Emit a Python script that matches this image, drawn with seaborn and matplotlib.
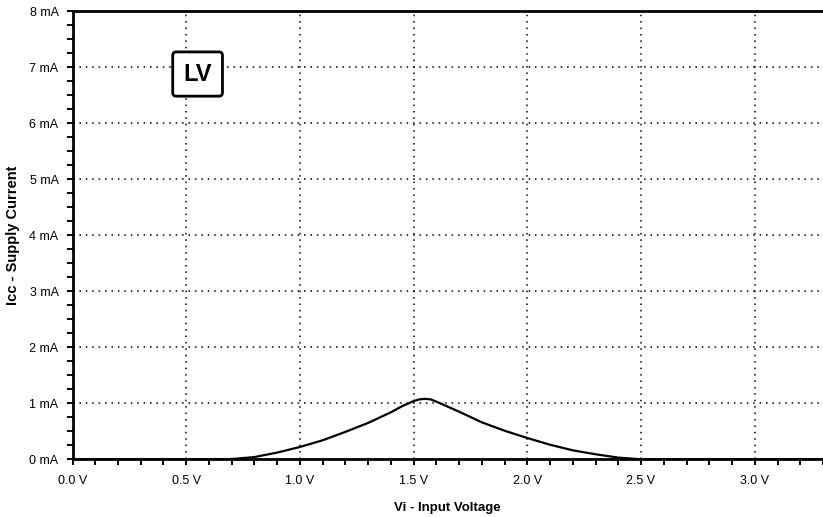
import matplotlib
matplotlib.use("Agg")
import matplotlib.pyplot as plt
from matplotlib.ticker import MultipleLocator
import seaborn as sns
import pandas as pd

# Supply current vs. input voltage (LV family)
input_voltage = [0.0, 0.5, 0.6, 0.7, 0.8, 0.9, 1.0, 1.1, 1.2, 1.3, 1.4, 1.45, 1.5,
                 1.525, 1.55, 1.575, 1.6, 1.65, 1.7, 1.8, 1.9, 2.0, 2.1, 2.2, 2.3,
                 2.4, 2.5, 3.3]
supply_current = [0.0, 0.0, 0.0, 0.005, 0.04, 0.12, 0.22, 0.34, 0.49, 0.65, 0.84, 0.95, 1.04,
                  1.07, 1.08, 1.07, 1.03, 0.94, 0.85, 0.66, 0.51, 0.38, 0.26, 0.16, 0.09,
                  0.03, 0.0, 0.0]

x_ticks = [0.0, 0.5, 1.0, 1.5, 2.0, 2.5, 3.0]
x_tick_labels = ["0.0 V", "0.5 V", "1.0 V", "1.5 V", "2.0 V", "2.5 V", "3.0 V"]
y_ticks = [0, 1, 2, 3, 4, 5, 6, 7, 8]
y_tick_labels = ["0 mA", "1 mA", "2 mA", "3 mA", "4 mA", "5 mA", "6 mA", "7 mA", "8 mA"]

sns.set_style("white")
plt.rcParams["font.family"] = ["Liberation Sans", "DejaVu Sans"]
plt.rcParams["text.color"] = "black"
plt.rcParams["axes.labelcolor"] = "black"

df = pd.DataFrame({"Vi": input_voltage, "Icc": supply_current})

fig = plt.figure(figsize=(8.23, 5.17), dpi=100)
ax = fig.add_axes([0.0881, 0.1116, 0.9119, 0.8665])

sns.lineplot(data=df, x="Vi", y="Icc", ax=ax, color="black", linewidth=1.6)

ax.set_xlim(0, 3.3)
ax.set_ylim(0, 8)
ax.set_xticks(x_ticks)
ax.set_xticklabels(x_tick_labels)
ax.set_yticks(y_ticks)
ax.set_yticklabels(y_tick_labels)
ax.xaxis.set_minor_locator(MultipleLocator(0.1))
ax.yaxis.set_minor_locator(MultipleLocator(0.25))

ax.tick_params(axis="both", which="both", direction="out", color="black",
               length=4, width=1.4, labelsize=9, labelcolor="black")
ax.tick_params(axis="x", which="major", pad=7)
ax.tick_params(axis="y", which="major", pad=6)
ax.tick_params(axis="y", which="both", left=True)
ax.tick_params(axis="x", which="both", bottom=True)

ax.grid(True, which="major", color="black", linestyle=(0, (1, 3.2)), linewidth=1.1)
ax.set_axisbelow(True)

for side in ("left", "bottom", "top"):
    ax.spines[side].set_color("black")
    ax.spines[side].set_linewidth(2.0)
ax.spines["right"].set_visible(False)

ax.set_xlabel("Vi - Input Voltage", fontsize=9.5, fontweight="bold", labelpad=11)
ax.set_ylabel("Icc - Supply Current", fontsize=10.5, fontweight="bold", labelpad=7)

ax.text(0.55, 6.88, "LV", fontsize=17, fontweight="bold", ha="center", va="center",
        color="black",
        bbox=dict(boxstyle="round,pad=0.45,rounding_size=0.15", facecolor="white",
                  edgecolor="black", linewidth=2.0))

fig.savefig("out.png", dpi=100)
